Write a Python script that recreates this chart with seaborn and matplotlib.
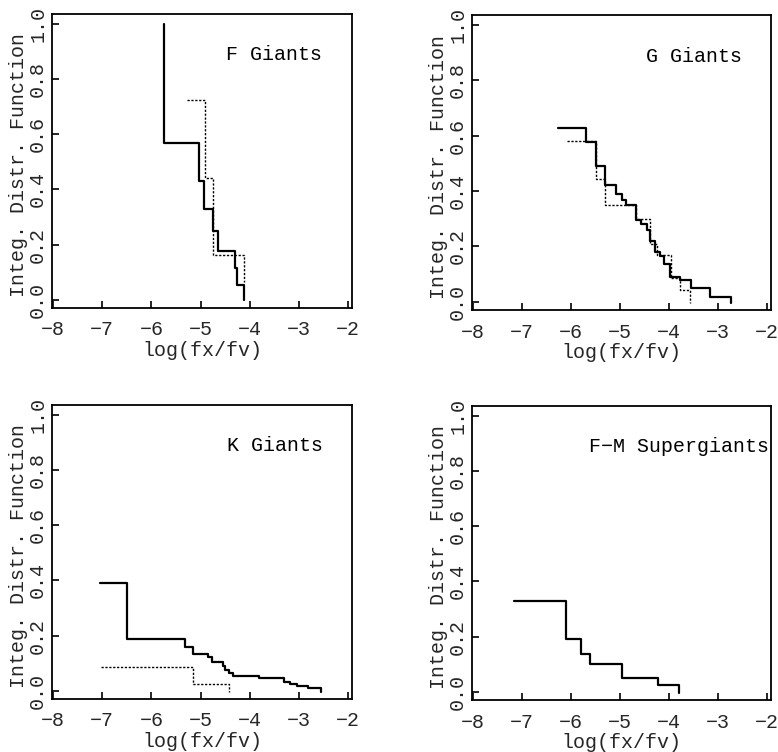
import matplotlib
matplotlib.use("Agg")
import matplotlib.pyplot as plt
import seaborn as sns
import pandas as pd

# ---------------- data ----------------
f_solid_x = [-5.74, -5.74, -5.04, -4.93, -4.74, -4.64, -4.29, -4.25, -4.12]
f_solid_y = [1.0, 0.57, 0.43, 0.33, 0.25, 0.175, 0.115, 0.054, 0.0]
f_dot_x = [-5.27, -4.915, -4.74, -4.115]
f_dot_y = [0.725, 0.44, 0.163, 0.065]

g_solid_x = [-6.274, -5.687, -5.483, -5.31, -5.078, -4.97, -4.87, -4.684, -4.568,
             -4.446, -4.379, -4.277, -4.175, -4.107, -3.971, -3.767, -3.543, -3.17, -2.734]
g_solid_y = [0.628, 0.576, 0.490, 0.420, 0.390, 0.366, 0.348, 0.294, 0.28,
             0.26, 0.22, 0.18, 0.165, 0.138, 0.09, 0.078, 0.048, 0.016, -0.005]
g_dot_x = [-6.076, -5.483, -5.316, -4.684, -4.38, -4.25, -3.97, -3.77, -3.57]
g_dot_y = [0.582, 0.442, 0.348, 0.300, 0.21, 0.168, 0.084, 0.042, -0.005]

k_solid_x = [-7.035, -6.49, -5.316, -5.159, -4.84, -4.77, -4.535, -4.50, -4.43,
             -4.33, -3.82, -3.31, -3.18, -3.03, -2.82, -2.545]
k_solid_y = [0.392, 0.187, 0.159, 0.133, 0.123, 0.105, 0.088, 0.075, 0.065,
             0.053, 0.045, 0.033, 0.024, 0.017, 0.009, -0.003]
k_dot_x = [-7.015, -5.16, -4.43]
k_dot_y = [0.087, 0.024, -0.005]

fm_solid_x = [-7.17, -6.095, -5.80, -5.61, -4.95, -4.23, -3.80]
fm_solid_y = [0.33, 0.192, 0.138, 0.099, 0.048, 0.024, -0.003]

panel_titles = ["F Giants", "G Giants", "K Giants", "F\u2212M Supergiants"]
x_ticks = [-8, -7, -6, -5, -4, -3, -2]
x_tick_labels = ["\u22128", "\u22127", "\u22126", "\u22125", "\u22124", "\u22123", "\u22122"]
y_ticks = [0.0, 0.2, 0.4, 0.6, 0.8, 1.0]
y_tick_labels = ["0.0", "0.2", "0.4", "0.6", "0.8", "1.0"]
x_label = "log(fx/fv)"
y_label = "Integ. Distr. Function"

# ---------------- style ----------------
sns.set_style("white")
FONT = ["Liberation Mono", "DejaVu Sans Mono", "DejaVu Sans"]
plt.rcParams["font.family"] = FONT
FS = 14.4

W, H = 778, 752
fig = plt.figure(figsize=(W / 100, H / 100), dpi=100)
fig.patch.set_facecolor("white")

# axes boxes in pixels: left, top, right, bottom
boxes = [(52, 14, 352, 308), (472, 15, 771, 310),
         (52, 405, 352, 699), (472, 406, 771, 700)]
title_pos = [(-4.49, 0.888), (-4.48, 0.885), (-4.47, 0.889), (-5.63, 0.889)]

series = [
    [(f_solid_x, f_solid_y, "solid"), (f_dot_x, f_dot_y, "dot")],
    [(g_solid_x, g_solid_y, "solid"), (g_dot_x, g_dot_y, "dot")],
    [(k_solid_x, k_solid_y, "solid"), (k_dot_x, k_dot_y, "dot")],
    [(fm_solid_x, fm_solid_y, "solid")],
]

for i, (l, t, r, b) in enumerate(boxes):
    ax = fig.add_axes([l / W, (H - b) / H, (r - l) / W, (b - t) / H])
    for xs, ys, kind in series[i]:
        df = pd.DataFrame({"x": xs, "y": ys})
        if kind == "solid":
            sns.lineplot(data=df, x="x", y="y", ax=ax, estimator=None, sort=False,
                         drawstyle="steps-post", color="black", linewidth=1.6)
        else:
            sns.lineplot(data=df, x="x", y="y", ax=ax, estimator=None, sort=False,
                         drawstyle="steps-post", color="black", linewidth=1.0,
                         linestyle=(0, (1.6, 1.2)))
    ax.set_xlim(-8.02, -1.92)
    ax.set_ylim(-0.03, 1.036)
    ax.set_xticks(x_ticks)
    ax.set_xticklabels(x_tick_labels, fontsize=FS)
    ax.set_yticks(y_ticks)
    ax.set_yticklabels(y_tick_labels, fontsize=FS, rotation=90, va="center")
    ax.tick_params(axis="both", direction="in", length=5, width=1.2,
                   bottom=True, left=True, top=False, right=False, color="black")
    ax.tick_params(axis="x", pad=9)
    ax.tick_params(axis="y", pad=3.5)
    for sp in ax.spines.values():
        sp.set_visible(True)
        sp.set_color("black")
        sp.set_linewidth(1.3)
    ax.set_xlabel(x_label, fontsize=FS)
    ax.xaxis.set_label_coords(0.5, -0.113)
    ax.set_ylabel(y_label, fontsize=FS)
    ax.yaxis.set_label_coords(-0.079, 0.486)
    tx, ty = title_pos[i]
    ax.text(tx, ty, panel_titles[i], fontsize=FS, ha="left", va="center",
            color="black", clip_on=False)

fig.savefig("out.png", dpi=100, facecolor="white")
